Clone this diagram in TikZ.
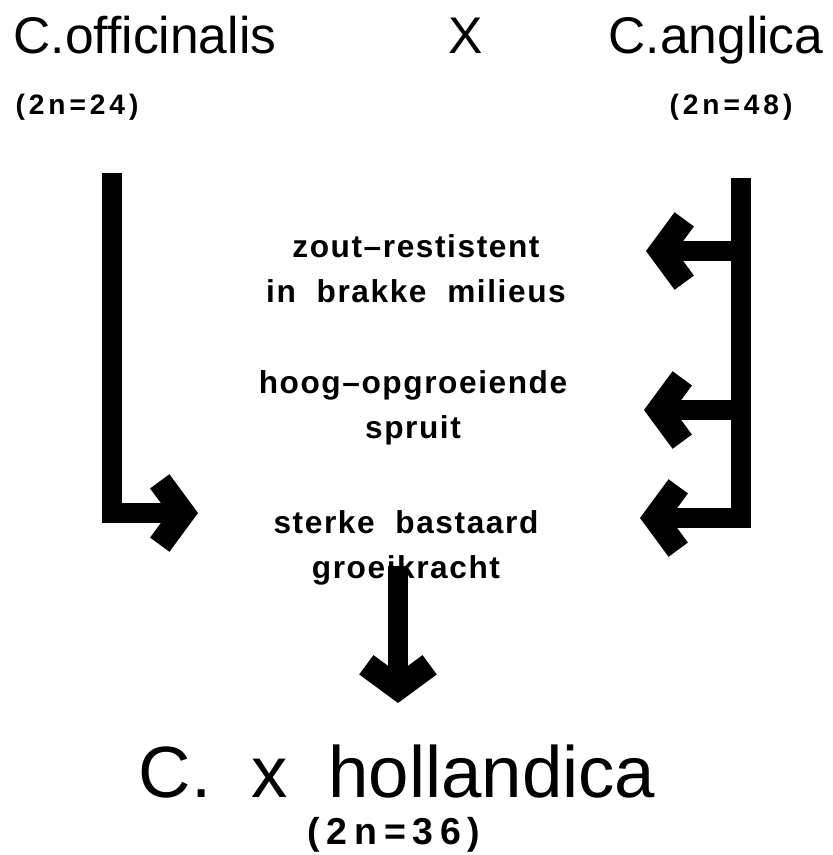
\documentclass[tikz,border=0pt]{standalone}
\usepackage{fontspec}
\setmainfont{Liberation Sans}
\usetikzlibrary{arrows.meta, positioning}
\tikzstyle{species} = [inner sep=0pt, font=\fontsize{44}{50}\selectfont]
\tikzstyle{chromo} = [inner sep=0pt, font=\fontsize{24}{28}\selectfont\bfseries\addfontfeatures{LetterSpace=14}]
\tikzstyle{chromobig} = [inner sep=0pt, font=\fontsize{32}{36}\selectfont\bfseries\addfontfeatures{LetterSpace=18}]
\tikzstyle{trait} = [inner sep=0pt, text height=20pt, text depth=6pt, font=\fontsize{27}{38}\selectfont\bfseries\addfontfeatures{LetterSpace=5}]
\tikzstyle{hybrid} = [inner sep=0pt, font=\fontsize{62}{70}\selectfont]
\tikzstyle{bigarrow} = [line width=0.6cm, line join=miter, -{Straight Barb[sharp,length=0.7cm,width=1.9cm,line width=0.72cm]}]

\begin{document}
\begin{tikzpicture}[x=0.03cm, y=0.03cm, node distance=1.35cm]
        \useasboundingbox (0,0) rectangle (833,-855);

        % Ouders
        \node (officinalis) [species, anchor=base] at (145,-53) {C.officinalis};
        \node (cross) [species, anchor=base] at (466,-53) {X};
        \node (anglica) [species, anchor=base] at (716,-53) {C.anglica};
        \node (chromoA) [chromo, anchor=base] at (77,-114) {(2n=24)};
        \node (chromoB) [chromo, anchor=base] at (731,-114) {(2n=48)};

        % Eigenschappen
        \node (zout) [trait, anchor=base] at (416,-257) {zout--restistent};
        \node (brakke) [trait, below of=zout] {in\ \ brakke\ \ milieus};
        \node (hoog) [trait, anchor=base] at (413,-393) {hoog--opgroeiende};
        \node (spruit) [trait, below of=hoog] {spruit};
        \node (sterke) [trait, anchor=base] at (406,-533) {sterke\ \ bastaard};
        \node (groei) [trait, below of=sterke] {groeikracht};

        % Hybride
        \node (hybrid) [hybrid, anchor=base] at (397,-797) {C.\ \ x\ \ hollandica};
        \node (chromoC) [chromobig, anchor=base] at (394,-844) {(2n=36)};

        % Pijlen
        \coordinate (lstart) at (112,-173);
        \coordinate (ltip) at (198,-513);
        \coordinate (rtop) at (741,-178);
        \coordinate (rtipA) at (646,-251);
        \coordinate (rtipB) at (644,-410);
        \coordinate (rtipC) at (640,-518);
        \coordinate (dstart) at (398,-566);
        \coordinate (dtip) at (398,-703);

        \draw [bigarrow] (lstart) |- (ltip);
        \draw [bigarrow] (rtop) |- (rtipC);
        \draw [bigarrow] (rtop |- rtipA) -- (rtipA);
        \draw [bigarrow] (rtop |- rtipB) -- (rtipB);
        \draw [bigarrow] (dstart) -- (dtip);

\end{tikzpicture}
\end{document}
